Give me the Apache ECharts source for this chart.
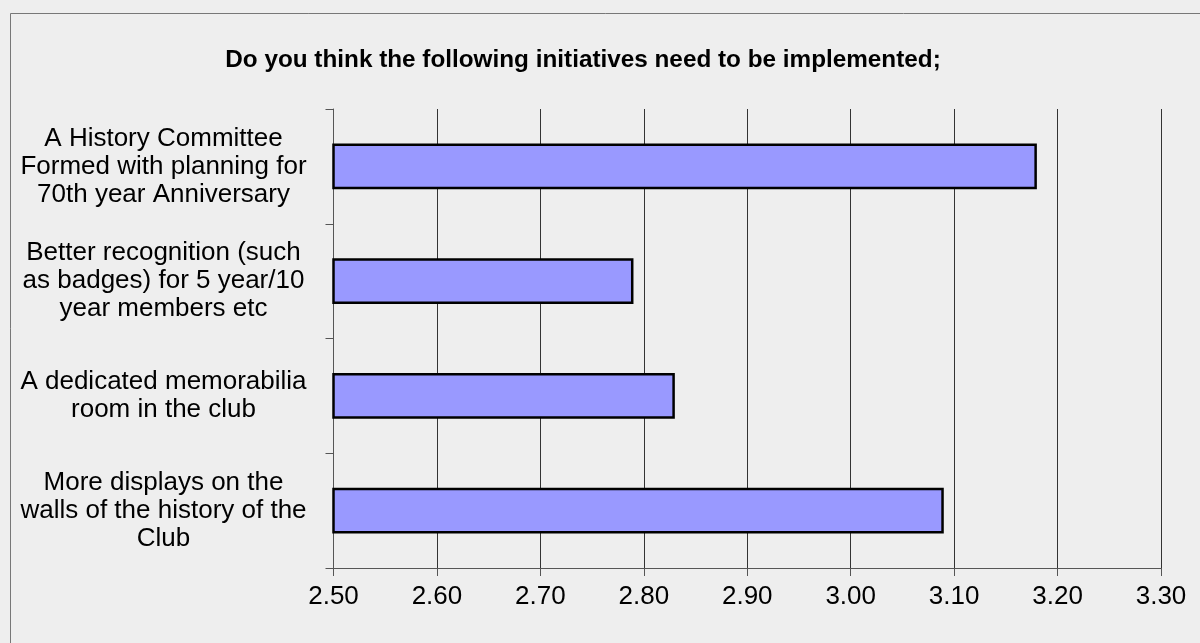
<!DOCTYPE html>
<html>
<head>
<meta charset="utf-8">
<script src="https://cdn.jsdelivr.net/npm/echarts@6/dist/echarts.min.js"></script>
<style>
html,body{margin:0;padding:0;background:#eeeeee;}
#chart{width:1200px;height:643px;}
</style>
</head>
<body>
<div id="chart"></div>
<script>
const titleText = "Do you think the following initiatives need to be implemented;";
const categories = [
  "A History Committee\nFormed with planning for\n70th year Anniversary",
  "Better recognition (such\nas badges) for 5 year/10\nyear members etc",
  "A dedicated memorabilia\nroom in the club",
  "More displays on the\nwalls of the history of the\nClub"
];
const values = [3.18, 2.79, 2.83, 3.09];
const axisMin = 2.5, axisMax = 3.3, axisStep = 0.1;

const chart = echarts.init(document.getElementById('chart'), null, {renderer: 'canvas'});
const font = "'Liberation Sans', Arial, sans-serif";
chart.setOption({
  backgroundColor: '#eeeeee',
  animation: false,
  title: {
    text: titleText,
    left: 578, top: 43, textAlign: 'center',
    textStyle: {fontFamily: font, fontWeight: 'bold', fontSize: 24.3, color: '#000'}
  },
  graphic: [{
    type: 'rect', silent: true,
    shape: {x: 10.5, y: 13.5, width: 1300, height: 800},
    style: {fill: 'none', stroke: '#777', lineWidth: 1}
  }],
  grid: {left: 333.5, right: 39, top: 109, bottom: 75, containLabel: false},
  xAxis: {
    type: 'value', min: axisMin, max: axisMax, interval: axisStep,
    axisLine: {show: true, lineStyle: {color: '#555', width: 1}},
    axisTick: {show: true, length: 8, lineStyle: {color: '#555'}},
    splitLine: {show: true, lineStyle: {color: '#333', width: 1}},
    axisLabel: {margin: 16, color: '#000', fontFamily: font, fontSize: 26,
      formatter: v => v.toFixed(2)}
  },
  yAxis: {
    type: 'category', data: categories, inverse: true,
    axisLine: {show: true, lineStyle: {color: '#555', width: 1}},
    axisTick: {show: true, length: 8, lineStyle: {color: '#555'}},
    axisLabel: {margin: 170, align: 'center', color: '#000', fontFamily: font, fontSize: 26, lineHeight: 28}
  },
  series: [{
    type: 'bar', data: values, barWidth: '40%',
    itemStyle: {color: '#9999ff', borderColor: '#000', borderWidth: 2.5}
  }]
});
</script>
</body>
</html>
